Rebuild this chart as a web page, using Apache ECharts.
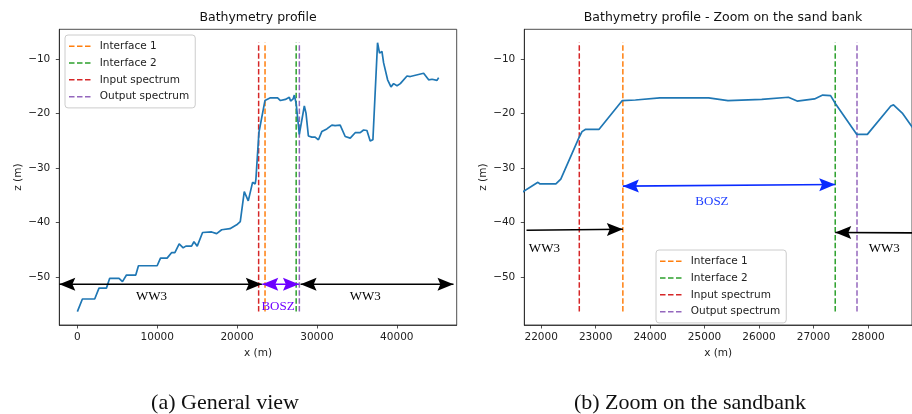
<!DOCTYPE html>
<html><head><meta charset="utf-8">
<script src="https://cdn.jsdelivr.net/npm/echarts@6/dist/echarts.min.js"></script>
<style>html,body{margin:0;padding:0;background:#fff}#c{width:912px;height:414px}</style>
</head><body><div id="c"></div>
<script>
// Bathymetry profile (x in m, z in m)
const X_M = [0, 630, 2170, 2710, 3640, 4050, 5220, 5650, 6150, 7315, 7650, 9990, 10410, 11240, 11790, 12210,
  12750, 13250, 13590, 14300, 14600, 15010, 15680, 16810, 17440, 18070, 19110, 19950, 20400, 20900, 21400,
  21940, 21980, 22270, 22360, 22690, 22750, 22810, 23060, 23490, 23730, 24180, 25075, 25430, 26050, 26540,
  26700, 27020, 27170, 27315, 27405, 27794, 27990, 28421, 28470, 28631, 28930, 29360, 29770, 30190, 30610,
  31240, 31440, 31870, 32280, 32910, 33120, 33540, 34170, 34790, 35420, 35840, 36260, 36670, 37010, 37590,
  37840, 38140, 38350, 38850, 39270, 39600, 40030, 40440, 41280, 41690, 43360, 43990, 44420, 45040, 45240];
const Z_M = [-56.3, -54.0, -54.0, -52.0, -52.0, -50.2, -50.2, -50.8, -49.6, -49.6, -47.9, -47.9, -46.5, -46.5, -45.5, -45.5,
  -43.9, -44.6, -44.3, -44.3, -43.5, -44.3, -41.8, -41.7, -42.0, -41.3, -41.1, -40.4, -39.8, -34.3, -36.0,
  -32.6, -32.9, -32.9, -32.0, -24.5, -23.3, -22.9, -22.9, -17.6, -17.5, -17.1, -17.1, -17.6, -17.4, -17.0,
  -17.7, -17.3, -16.6, -16.7, -18.2, -23.8, -23.8, -18.6, -18.4, -19.9, -24.1, -24.3, -24.3, -24.8, -23.3,
  -22.8, -22.7, -22.1, -22.2, -22.1, -22.2, -24.2, -24.5, -23.5, -23.5, -23.0, -23.1, -25.0, -24.8, -7.0,
  -8.9, -8.6, -10.7, -13.8, -15.1, -14.5, -14.9, -14.5, -13.1, -13.2, -12.6, -13.8, -13.7, -13.9, -13.4];

const MARKER_NAMES = ['Interface 1', 'Interface 2', 'Input spectrum', 'Output spectrum'];
const MARKER_X = [23500, 27400, 22700, 27800];

const X_TICKS_A = [0, 10000, 20000, 30000, 40000];
const X_TICKS_B = [22000, 23000, 24000, 25000, 26000, 27000, 28000];
const Z_TICKS = [-50, -40, -30, -20, -10];
const X_RANGE_B = [21690, 28810];

// Annotation arrows [x1, z1, x2, z2] in data units
const ARROWS_A = [[-2262, -51.3, 23100, -51.3], [23150, -51.3, 27750, -51.3], [27950, -51.3, 47100, -51.3]];
const ARROW_HEADS_A = ['both', 'both', 'both'];
const ARROWS_B = [[21730, -41.4, 23500, -41.2], [23500, -33.3, 27400, -33.0], [27400, -41.8, 29300, -41.9]];
const ARROW_HEADS_B = ['end', 'both', 'start'];
const LABELS_A = ['WW3', 'BOSZ', 'WW3'];
const LABEL_POS_A = [[9285, -53.6], [25130, -55.4], [36050, -53.6]];
const LABELS_B = ['BOSZ', 'WW3', 'WW3'];
const LABEL_POS_B = [[25136, -36.1], [22059, -44.7], [28301, -44.7]];

// ---- styles ----
const MARKER_COLORS = ['#ff7f0e', '#2ca02c', '#d62728', '#9467bd'];
const ARROW_COLORS_A = ['#000', '#6e00ff', '#000'];
const ARROW_COLORS_B = ['#000', '#0a2bff', '#000'];
const LABEL_COLORS_A = ['#000', '#6e00ff', '#000'];
const LABEL_COLORS_B = ['#1f3fff', '#000', '#000'];
const FONT = 'DejaVu Sans';
const SERIF = 'Liberation Serif';
const INK = '#222';
const DASH_ICON = 'path://M0,0H5.5V1.5H0Z M8,0H13.5V1.5H8Z M16,0H21.5V1.5H16Z';

const xMin = Math.min(...X_M), xMax = Math.max(...X_M);
const zMin = Math.min(...Z_M), zMax = Math.max(...Z_M);
const xPad = 0.05 * (xMax - xMin), zPad = 0.05 * (zMax - zMin);
const PROFILE = X_M.map((x, i) => [x, Z_M[i]]);

const fmt = v => String(v).replace('-', '\u2212');

function xAxisCfg(gi, min, max, ticks) {
  return {
    type: 'value', gridIndex: gi, min, max,
    name: 'x (m)', nameLocation: 'middle', nameGap: 22,
    nameTextStyle: { fontSize: 10.5, color: INK, fontFamily: FONT },
    axisLine: { show: true, onZero: false, lineStyle: { color: INK, width: 0.8 } },
    splitLine: { show: false },
    axisTick: { show: true, length: 3.5, inside: false, lineStyle: { color: INK, width: 0.8 }, customValues: ticks },
    axisLabel: { customValues: ticks, margin: 7, fontSize: 10.5, color: INK, fontFamily: FONT, formatter: fmt }
  };
}
function yAxisCfg(gi, gap) {
  return {
    type: 'value', gridIndex: gi, min: zMin - zPad, max: zMax + zPad,
    name: 'z (m)', nameLocation: 'middle', nameGap: gap, nameRotate: 90,
    nameTextStyle: { fontSize: 10.5, color: INK, fontFamily: FONT },
    axisLine: { show: true, onZero: false, lineStyle: { color: INK, width: 0.8 } },
    splitLine: { show: false },
    axisTick: { show: true, length: 3.5, lineStyle: { color: INK, width: 0.8 }, customValues: Z_TICKS },
    axisLabel: { customValues: Z_TICKS, margin: 9, fontSize: 10.5, color: INK, fontFamily: FONT, formatter: fmt }
  };
}

function markerSeries(gi) {
  return MARKER_NAMES.map((name, i) => ({
    type: 'line', name, xAxisIndex: gi, yAxisIndex: gi,
    data: [[MARKER_X[i], zMin], [MARKER_X[i], zMax]],
    symbol: 'none', silent: true, z: 3,
    lineStyle: { color: MARKER_COLORS[i], width: 1.5, type: [5.5, 2.4] },
    itemStyle: { color: MARKER_COLORS[i] }
  }));
}

function arrowSeries(gi, arrows, heads, colors) {
  return {
    type: 'custom', xAxisIndex: gi, yAxisIndex: gi, silent: true, z: 6, clip: false,
    data: arrows,
    renderItem(params, api) {
      const a = arrows[params.dataIndex];
      const p1 = api.coord([a[0], a[1]]), p2 = api.coord([a[2], a[3]]);
      const col = colors[params.dataIndex], h = heads[params.dataIndex];
      const dx = p2[0] - p1[0], dy = p2[1] - p1[1], len = Math.hypot(dx, dy);
      const ux = dx / len, uy = dy / len, nx = -uy, ny = ux;
      const L = 16, W = 13;
      const head = (tx, ty, sx, sy) => ({
        type: 'polygon',
        shape: { points: [[tx, ty], [tx - sx * L + nx * W / 2, ty - sy * L + ny * W / 2],
          [tx - sx * L * 0.82, ty - sy * L * 0.82], [tx - sx * L - nx * W / 2, ty - sy * L - ny * W / 2]] },
        style: { fill: col }
      });
      const children = [{ type: 'line', shape: { x1: p1[0], y1: p1[1], x2: p2[0], y2: p2[1] }, style: { stroke: col, lineWidth: 1.6 } }];
      if (h === 'end' || h === 'both') children.push(head(p2[0], p2[1], ux, uy));
      if (h === 'start' || h === 'both') children.push(head(p1[0], p1[1], -ux, -uy));
      return { type: 'group', children };
    }
  };
}

function labelSeries(gi, pos, texts, colors) {
  return {
    type: 'custom', xAxisIndex: gi, yAxisIndex: gi, silent: true, z: 7, clip: false,
    data: pos,
    renderItem(params, api) {
      const p = api.coord(pos[params.dataIndex]);
      return { type: 'text', x: p[0], y: p[1],
        style: { text: texts[params.dataIndex], fill: colors[params.dataIndex], font: '13px "' + SERIF + '"',
          align: 'center', verticalAlign: 'middle' } };
    }
  };
}

function legendCfg(left, top) {
  return {
    data: MARKER_NAMES.map(name => ({ name, icon: DASH_ICON })),
    orient: 'vertical', left, top,
    padding: [5, 6, 5, 4], itemWidth: 22, itemHeight: 1.5, itemGap: 4.3,
    backgroundColor: 'rgba(255,255,255,0.85)', borderColor: '#cccccc', borderWidth: 1, borderRadius: 3,
    selectedMode: false,
    textStyle: { fontSize: 10.5, lineHeight: 12.5, color: INK, fontFamily: FONT, padding: [0, 0, 0, 4] }
  };
}

const chart = echarts.init(document.getElementById('c'), null, { renderer: 'canvas' });
const GRID_W = 397.4, GRID_H = 295.7, GRID_TOP = 29.3;

chart.setOption({
  animation: false,
  backgroundColor: '#fff',
  grid: [
    { left: 59.3, top: GRID_TOP, width: GRID_W, height: GRID_H, show: true, borderColor: INK, borderWidth: 0.8, backgroundColor: 'transparent' },
    { left: 524.3, top: GRID_TOP, width: GRID_W, height: GRID_H, show: true, borderColor: INK, borderWidth: 0.8, backgroundColor: 'transparent' }
  ],
  xAxis: [xAxisCfg(0, xMin - xPad, xMax + xPad, X_TICKS_A), xAxisCfg(1, X_RANGE_B[0], X_RANGE_B[1], X_TICKS_B)],
  yAxis: [yAxisCfg(0, 34), yAxisCfg(1, 36)],
  legend: [legendCfg(65, 35), legendCfg(656, 250)],
  series: [
    { type: 'line', name: 'Bathymetry', xAxisIndex: 0, yAxisIndex: 0, data: PROFILE, symbol: 'none', z: 4,
      lineStyle: { color: '#1f77b4', width: 1.7 }, silent: true },
    ...markerSeries(0),
    arrowSeries(0, ARROWS_A, ARROW_HEADS_A, ARROW_COLORS_A),
    labelSeries(0, LABEL_POS_A, LABELS_A, LABEL_COLORS_A),
    { type: 'line', name: 'Bathymetry', xAxisIndex: 1, yAxisIndex: 1, data: PROFILE, symbol: 'none', z: 4,
      lineStyle: { color: '#1f77b4', width: 1.7 }, silent: true },
    ...markerSeries(1),
    arrowSeries(1, ARROWS_B, ARROW_HEADS_B, ARROW_COLORS_B),
    labelSeries(1, LABEL_POS_B, LABELS_B, LABEL_COLORS_B)
  ],
  graphic: [
    { type: 'text', x: 258, y: 17.5, style: { text: 'Bathymetry profile', font: '12.5px "' + FONT + '"', fill: '#111', align: 'center', verticalAlign: 'middle' } },
    { type: 'text', x: 723, y: 17.5, style: { text: 'Bathymetry profile - Zoom on the sand bank', font: '12.5px "' + FONT + '"', fill: '#111', align: 'center', verticalAlign: 'middle' } },
    { type: 'text', x: 225, y: 403, style: { text: '(a) General view', font: '22px "' + SERIF + '"', fill: '#111', align: 'center', verticalAlign: 'middle' } },
    { type: 'text', x: 690, y: 403, style: { text: '(b) Zoom on the sandbank', font: '22px "' + SERIF + '"', fill: '#111', align: 'center', verticalAlign: 'middle' } }
  ]
});
</script>
</body></html>
